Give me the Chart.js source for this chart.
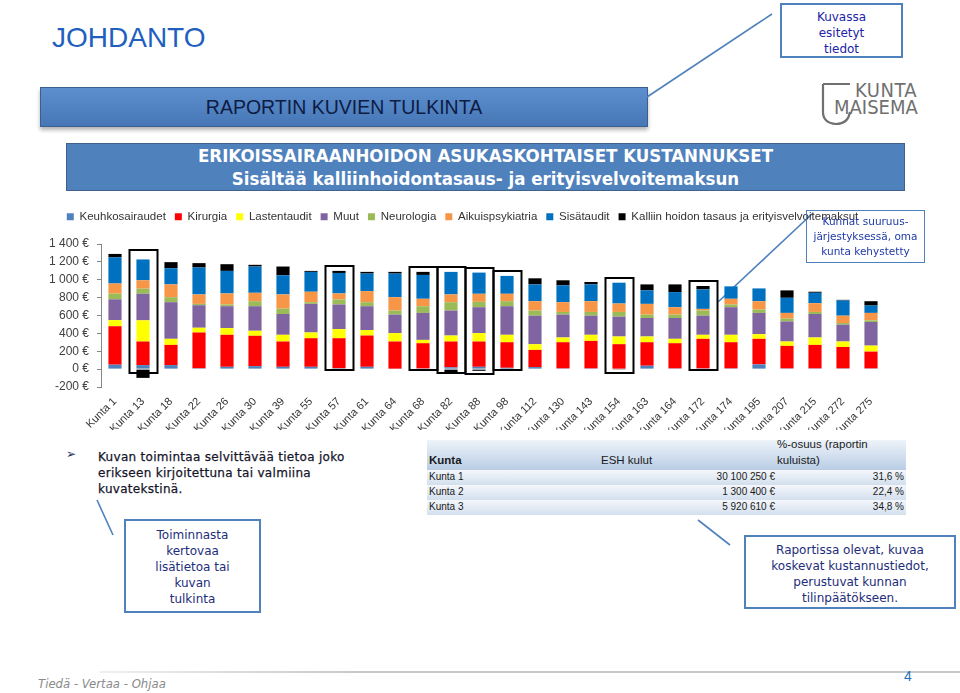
<!DOCTYPE html>
<html lang="fi">
<head>
<meta charset="utf-8">
<title>Raportin kuvien tulkinta</title>
<script src="https://cdn.jsdelivr.net/npm/chart.js@4.4.1/dist/chart.umd.min.js"></script>
<style>
  html, body { margin: 0; padding: 0; background: #fff; }
  #slide { position: relative; width: 960px; height: 693px; overflow: hidden; background: #fff; font-family: 'DejaVu Sans', sans-serif; }
  .abs { position: absolute; }
  #johdanto { left: 52px; top: 22px; font: 28px 'Liberation Sans', Arial, sans-serif; color: #1f5fbf; }
  #banner { left: 40px; top: 87px; width: 606px; height: 38px; background: linear-gradient(#5d8fcf, #4676b6); border: 1px solid #3a5f90;
            box-shadow: 0 3px 4px rgba(0,0,0,0.3); color: #0e1c44; font: 19.5px 'Liberation Sans', Arial, sans-serif; line-height: 38px; text-align: center; }
  #kuvassa { left: 780px; top: 3px; width: 123px; height: 55px; border: 2px solid #4f81bd; color: #2323a8; font-size: 12px; line-height: 16px; text-align: center; padding-top: 4px; box-sizing: border-box; }
  #logo1 { left: 855px; top: 78px; font: 20px 'DejaVu Sans Condensed', sans-serif; color: #707070; letter-spacing: 0.5px; }
  #logo2 { left: 834px; top: 95px; font: 20px 'DejaVu Sans Condensed', sans-serif; color: #707070; letter-spacing: 0px; }
  #otsikko { left: 66px; top: 143px; width: 837px; height: 46px; background: #4f81bd; border: 1px solid #40628a; color: #fff;
             font: bold 18.5px 'DejaVu Sans Condensed', sans-serif; text-align: center; line-height: 23px; }
  #chartWrap { left: 40px; top: 202px; width: 870px; height: 228px; }
  #callout { left: 806px; top: 210px; width: 119px; height: 53px; border: 1.5px solid #4f81bd; color: #1f3aa6; font-size: 10.5px; line-height: 15px; text-align: center; box-sizing: border-box; padding-top: 3px; }
  #bullet { left: 66px; top: 447px; font-size: 12px; color: #1f2f5f; }
  #kuvateksti { left: 98px; top: 449px; font-size: 12px; line-height: 16px; color: #15152a; letter-spacing: 0.3px; -webkit-text-stroke: 0.25px #15152a; }
  #taulu { left: 427px; top: 440px; width: 479px; height: 75px; overflow: hidden; font: 10px 'Liberation Sans', Arial, sans-serif; color: #1a1a1a; }
  .rivi { position: absolute; left: 0; width: 479px; background: linear-gradient(#f4f7fb, #d3dfee); }
  .rivi span { position: absolute; }
  .otsake span { font-size: 11.5px; }
  .laatikko { border: 2px solid #4f81bd; color: #1d2d7a; font-size: 12px; line-height: 16px; text-align: center; box-sizing: border-box; }
  #lisatieto { left: 124px; top: 519px; width: 137px; height: 94px; padding-top: 6px; }
  #raportti { left: 744px; top: 535px; width: 212px; height: 74px; padding-top: 5px; }
  #alaviiva { left: 100px; top: 671px; width: 860px; height: 2px; background: linear-gradient(90deg, #f0f0f0, #c8c8c8 30%, #c8c8c8); }
  #slogan { left: 38px; top: 676px; font: italic 13px 'DejaVu Sans Condensed', sans-serif; color: #8a8a8a; }
  #sivu { left: 904px; top: 668px; font: 14px 'Liberation Sans', Arial, sans-serif; color: #1f6fb5; }
</style>
</head>
<body>
<div id="slide">
  <div id="johdanto" class="abs">JOHDANTO</div>
  <div id="banner" class="abs">RAPORTIN KUVIEN TULKINTA</div>
  <div id="kuvassa" class="abs">Kuvassa<br>esitetyt<br>tiedot</div>
  <svg class="abs" style="left:0;top:0" width="960" height="693">
    <g stroke="#4f81bd" stroke-width="1.6" fill="none">
      <line x1="647" y1="97" x2="772" y2="14"/>
      <line x1="718" y1="302" x2="813" y2="213"/>
      <line x1="97" y1="500" x2="113" y2="535"/>
      <line x1="698" y1="520" x2="730" y2="545"/>
    </g>
    <path d="M823 84 H850 M823 84 V112 Q823 123 836 124 Q848 124 850 112" stroke="#707070" stroke-width="2.2" fill="none"/>
  </svg>
  <div id="logo1" class="abs">KUNTA</div>
  <div id="logo2" class="abs">MAISEMA</div>

  <div id="otsikko" class="abs">ERIKOISSAIRAANHOIDON ASUKASKOHTAISET KUSTANNUKSET<br>Sisältää kalliinhoidontasaus- ja erityisvelvoitemaksun</div>

  <div id="chartWrap" class="abs"><canvas id="chart" width="870" height="228"></canvas></div>
  <div id="callout" class="abs">Kunnat suuruus-<br>järjestyksessä, oma<br>kunta kehystetty</div>

  <div id="bullet" class="abs">&#10146;</div>
  <div id="kuvateksti" class="abs">Kuvan toimintaa selvittävää tietoa joko<br>erikseen kirjoitettuna tai valmiina<br>kuvatekstinä.</div>

  <div id="taulu" class="abs">
    <div class="rivi otsake" style="top:0;height:30px;background:linear-gradient(#eef3f9,#b9cde5);">
      <span style="left:2px;top:14px;font-weight:bold;">Kunta</span>
      <span style="left:174px;top:14px;">ESH kulut</span>
      <span style="left:350px;top:-2px;">%-osuus  (raportin</span>
      <span style="left:350px;top:14px;">kuluista)</span>
    </div>
    <div class="rivi" style="top:30px;height:15px;">
      <span style="left:2px;top:1px;">Kunta 1</span>
      <span style="right:131px;top:1px;">30 100 250 €</span>
      <span style="right:2px;top:1px;">31,6 %</span>
    </div>
    <div class="rivi" style="top:45px;height:15px;">
      <span style="left:2px;top:1px;">Kunta 2</span>
      <span style="right:131px;top:1px;">1 300 400 €</span>
      <span style="right:2px;top:1px;">22,4 %</span>
    </div>
    <div class="rivi" style="top:60px;height:15px;">
      <span style="left:2px;top:1px;">Kunta 3</span>
      <span style="right:131px;top:1px;">5 920 610 €</span>
      <span style="right:2px;top:1px;">34,8 %</span>
    </div>
  </div>

  <div id="lisatieto" class="abs laatikko">Toiminnasta<br>kertovaa<br>lisätietoa tai<br>kuvan<br>tulkinta</div>
  <div id="raportti" class="abs laatikko">Raportissa olevat, kuvaa<br>koskevat kustannustiedot,<br>perustuvat kunnan<br>tilinpäätökseen.</div>

  <div id="alaviiva" class="abs"></div>
  <div id="slogan" class="abs">Tiedä - Vertaa - Ohjaa</div>
  <div id="sivu" class="abs">4</div>
</div>

<script>
// Kunnat suuruusjärjestyksessä (€ / asukas)
const kunnat = ['Kunta 1', 'Kunta 13', 'Kunta 18', 'Kunta 22', 'Kunta 26', 'Kunta 30', 'Kunta 39', 'Kunta 55', 'Kunta 57', 'Kunta 61',
  'Kunta 64', 'Kunta 68', 'Kunta 82', 'Kunta 88', 'Kunta 98', 'Kunta 112', 'Kunta 130', 'Kunta 143', 'Kunta 154', 'Kunta 163',
  'Kunta 164', 'Kunta 172', 'Kunta 174', 'Kunta 195', 'Kunta 207', 'Kunta 215', 'Kunta 272', 'Kunta 275'];

const keuhkosairaudet = [50, 45, 45, 10, 26, 34, 26, 26, 10, 26, 5, 8, 20, 26, 15, 23, 8, 8, 5, 38, 8, 8, 8, 53, 8, 8, 8, 8];
const kirurgia = [430, 264, 226, 400, 358, 339, 283, 320, 336, 350, 304, 282, 289, 283, 286, 192, 293, 308, 274, 263, 282, 331, 293, 286, 252, 263, 240, 188];
const lastentaudit = [68, 237, 68, 53, 75, 56, 75, 64, 102, 61, 94, 37, 67, 94, 83, 64, 53, 68, 86, 64, 49, 45, 83, 52, 49, 83, 61, 67];
const muut = [233, 297, 410, 252, 245, 275, 233, 320, 275, 267, 207, 302, 279, 290, 320, 319, 256, 214, 222, 207, 233, 214, 309, 238, 225, 263, 188, 264];
const neurologia = [64, 57, 56, 15, 19, 56, 60, 19, 56, 45, 45, 75, 94, 60, 56, 57, 30, 42, 53, 38, 38, 57, 30, 37, 31, 23, 19, 19];
const aikuispsykiatria = [113, 94, 143, 106, 124, 94, 159, 117, 68, 124, 150, 83, 87, 90, 83, 105, 109, 120, 94, 120, 83, 19, 64, 94, 64, 98, 82, 83];
const sisataudit = [294, 233, 181, 301, 252, 294, 214, 222, 229, 196, 264, 267, 252, 237, 200, 188, 188, 188, 233, 151, 169, 218, 139, 143, 169, 116, 170, 82];
const kalliinHoidon = [37, -98, 68, 49, 75, 19, 98, 11, 23, 19, 19, 34, -49, -19, 0, 68, 57, 27, -8, 67, 86, 38, 0, 0, 83, 12, 7, 49];

const sarjat = ['Keuhkosairaudet', 'Kirurgia', 'Lastentaudit', 'Muut', 'Neurologia', 'Aikuispsykiatria', 'Sisätaudit',
  'Kalliin hoidon tasaus ja erityisvelvoitemaksut'];
const varit = ['#4f81bd', '#ff0000', '#ffff00', '#8064a2', '#9bbb59', '#f79646', '#0070c0', '#000000'];
const yTicks = [-200, 0, 200, 400, 600, 800, 1000, 1200, 1400];

// oma kunta kehystetty
const kehystetyt = ['Kunta 13', 'Kunta 57', 'Kunta 68', 'Kunta 82', 'Kunta 88', 'Kunta 98', 'Kunta 154', 'Kunta 172'];

const arvot = [keuhkosairaudet, kirurgia, lastentaudit, muut, neurologia, aikuispsykiatria, sisataudit, kalliinHoidon];

const formatEuro = (v) => {
  const s = String(Math.abs(v)).replace(/\B(?=(\d{3})+(?!\d))/g, ' ');
  return (v < 0 ? '-' : '') + s + ' €';
};

// legendan korkeus kiinteäksi, jotta kuva-alue alkaa oikeasta kohdasta
const legendHeight = {
  id: 'legendHeight',
  beforeInit(chart) {
    const fit = chart.legend.fit;
    chart.legend.fit = function () {
      fit.bind(chart.legend)();
      this.height = 42;
    };
  }
};

const kehysPlugin = {
  id: 'kehys',
  afterDatasetsDraw(chart) {
    const { ctx, scales: { x, y } } = chart;
    ctx.save();
    ctx.strokeStyle = '#000';
    ctx.lineWidth = 2;
    kehystetyt.forEach(nimi => {
      const i = kunnat.indexOf(nimi);
      let plus = 0, miinus = 0;
      chart.data.datasets.forEach(ds => {
        if (ds.data[i] > 0) plus += ds.data[i]; else miinus += ds.data[i];
      });
      const cx = x.getPixelForValue(i);
      const top = y.getPixelForValue(plus) - (i === 1 ? 9 : 5);
      const bottom = y.getPixelForValue(0) + (miinus < 0 ? 4 : 1);
      ctx.strokeRect(Math.round(cx - 14) + 0.5, Math.round(top), 28, Math.round(bottom - top));
    });
    ctx.restore();
  }
};

new Chart(document.getElementById('chart'), {
  type: 'bar',
  data: {
    labels: kunnat,
    datasets: sarjat.map((nimi, k) => ({
      label: nimi,
      data: arvot[k],
      backgroundColor: varit[k],
      borderWidth: 0,
      barPercentage: 0.47,
      categoryPercentage: 1
    }))
  },
  options: {
    responsive: false,
    animation: false,
    layout: { padding: { right: 25 } },
    plugins: {
      legend: {
        position: 'top',
        labels: {
          boxWidth: 7,
          boxHeight: 7,
          padding: 9,
          color: '#333',
          font: { family: "'Liberation Sans', Arial, sans-serif", size: 11.5 }
        }
      },
      tooltip: { enabled: false }
    },
    scales: {
      x: {
        stacked: true,
        grid: { display: false },
        border: { display: false },
        ticks: {
          maxRotation: 45,
          minRotation: 45,
          padding: 0,
          color: '#333',
          font: { family: "'Liberation Sans', Arial, sans-serif", size: 11 }
        },
        afterFit: (s) => { s.height = 43; }
      },
      y: {
        stacked: true,
        min: -200,
        max: 1400,
        afterBuildTicks: (s) => { s.ticks = yTicks.map(v => ({ value: v })); },
        grid: { drawOnChartArea: false, drawTicks: true, tickLength: 4, color: '#868686' },
        border: { display: true, color: '#868686' },
        ticks: {
          padding: 8,
          color: '#404040',
          font: { family: "'Liberation Sans', Arial, sans-serif", size: 12 },
          callback: (v) => formatEuro(v)
        },
        afterFit: (s) => { s.width = 61; }
      }
    }
  },
  plugins: [legendHeight, kehysPlugin]
});
</script>
</body>
</html>
